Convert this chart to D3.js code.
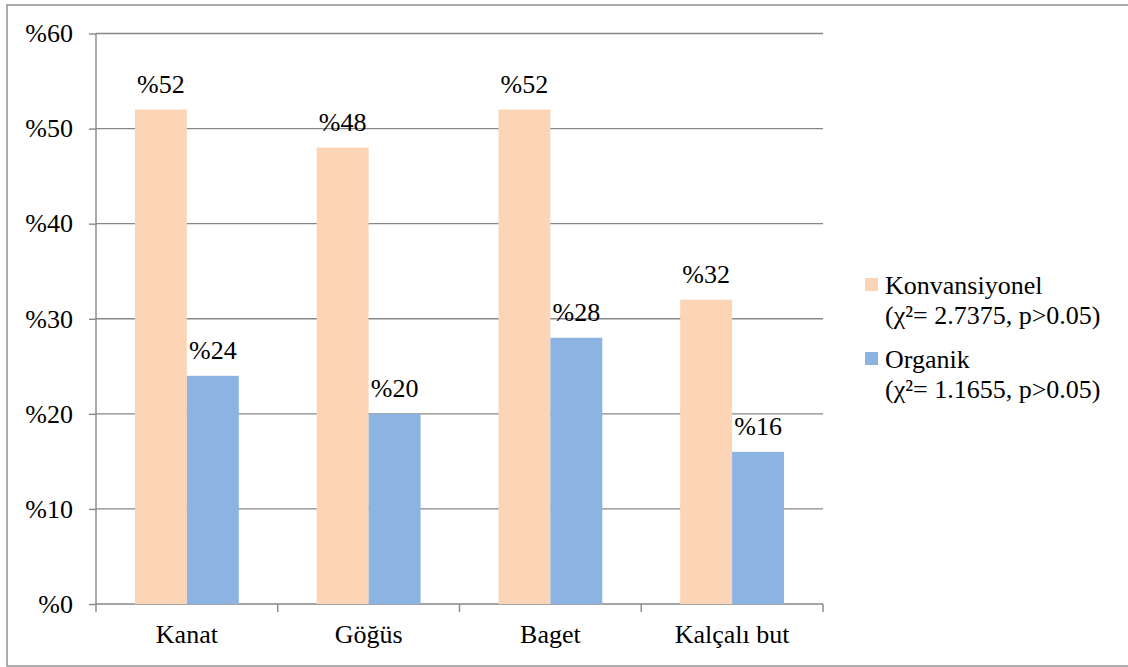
<!DOCTYPE html>
<html><head><meta charset="utf-8">
<script src="https://cdn.jsdelivr.net/npm/d3@7"></script>
<style>body{margin:0;background:#fff}svg{display:block}</style>
</head><body>
<script>
const categories = ["Kanat","Göğüs","Baget","Kalçalı but"];
const seriesNames = ["Konvansiyonel","Organik"];
const seriesNotes = ["(χ²= 2.7375, p>0.05)","(χ²= 1.1655, p>0.05)"];
const konvansiyonel = [52,48,52,32];
const organik = [24,20,28,16];
const yTicks = [0,10,20,30,40,50,60];
const colors = ["#FBD5B5","#8DB3E2"];

const W=1128,H=667;
const svg=d3.select("body").append("svg").attr("width",W).attr("height",H)
  .style("font-family",'"Liberation Serif"').style("font-size","26px");
svg.append("rect").attr("x",7).attr("y",5).attr("width",1130).attr("height",661)
  .attr("fill","#fff").attr("stroke","#8a8a8a").attr("stroke-width",1.4);

const pL=96,pR=823,pT=33.5,pB=604;
const x=d3.scaleBand().domain(categories).range([pL,pR]).padding(0);
const bw=x.bandwidth();
const x1=d3.scaleBand().domain(seriesNames).range([bw*0.75/3.5, bw*2.75/3.5]).padding(0);
const y=d3.scaleLinear().domain([0,60]).range([pB,pT]);
const gridColor="#878787";

const yAxis=d3.axisLeft(y).tickValues(yTicks).tickSize(7).tickFormat(d=>"%"+d).tickPadding(16);
const gy=svg.append("g").attr("transform",`translate(${pL},0)`).call(yAxis)
  .attr("font-family",null).attr("font-size",null);
gy.select(".domain").remove();
gy.selectAll(".tick line").attr("stroke",gridColor).attr("stroke-width",1.4);
gy.selectAll(".tick text").attr("fill","#000");
svg.append("g").selectAll("line").data(yTicks).join("line")
  .attr("x1",pL).attr("x2",pR).attr("y1",d=>y(d)).attr("y2",d=>y(d))
  .attr("stroke",gridColor).attr("stroke-width",1.4);

const data=[konvansiyonel,organik];
const g=svg.append("g");
seriesNames.forEach((s,si)=>{
  g.selectAll(".b"+si).data(categories).join("rect").attr("class","b"+si)
    .attr("x",c=>x(c)+x1(s)).attr("width",x1.bandwidth())
    .attr("y",(c,i)=>y(data[si][i])).attr("height",(c,i)=>y(0)-y(data[si][i]))
    .attr("fill",colors[si]);
  g.selectAll(".l"+si).data(categories).join("text").attr("class","l"+si)
    .attr("x",c=>x(c)+x1(s)+x1.bandwidth()/2)
    .attr("y",(c,i)=>y(data[si][i])-17)
    .attr("text-anchor","middle")
    .text((c,i)=>"%"+data[si][i]);
});

svg.append("line").attr("x1",pL).attr("x2",pL).attr("y1",pT).attr("y2",pB)
  .attr("stroke",gridColor).attr("stroke-width",1.4);
const xAxis=d3.axisBottom(x).tickSize(0).tickPadding(0);
const gx=svg.append("g").attr("transform",`translate(0,${pB})`).call(xAxis)
  .attr("font-family",null).attr("font-size",null);
gx.select(".domain").remove();
gx.selectAll(".tick text").attr("fill","#000").attr("dy",null).attr("y",39);
const bounds=categories.map(c=>x(c)).concat([pR]);
svg.append("g").selectAll("line").data(bounds).join("line")
  .attr("x1",d=>d).attr("x2",d=>d).attr("y1",pB).attr("y2",pB+8)
  .attr("stroke",gridColor).attr("stroke-width",1.4);

const leg=svg.append("g");
const legY=[294,368];
seriesNames.forEach((s,i)=>{
  leg.append("rect").attr("x",865).attr("y",legY[i]-16).attr("width",13).attr("height",13).attr("fill",colors[i]);
  leg.append("text").attr("x",885).attr("y",legY[i]).text(s);
  leg.append("text").attr("x",885).attr("y",legY[i]+30).text(seriesNotes[i]);
});
</script>
</body></html>
